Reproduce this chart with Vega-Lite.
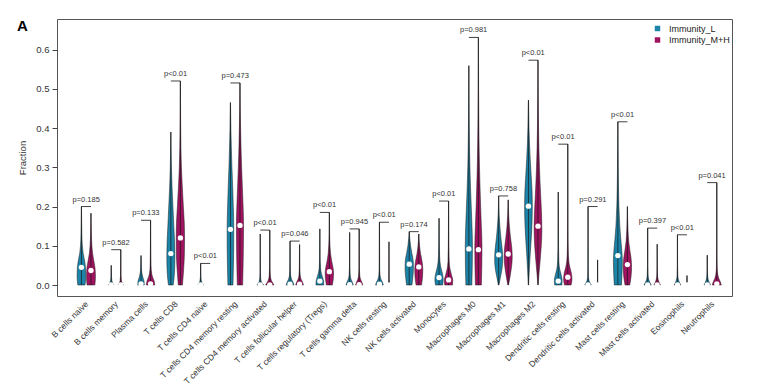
{
"$schema": "https://vega.github.io/schema/vega-lite/v6.json",
"width": 675, "height": 277,
"autosize": "none",
"padding": {"left": 57, "top": 19, "right": 32, "bottom": 95},
"background": "white",
"title": {"text": "A", "anchor": "start", "frame": "group", "dx": -40, "dy": 19, "fontSize": 15, "fontWeight": "bold", "font": "Liberation Sans", "color": "#000"},
"config": {
  "font": "Liberation Sans",
  "view": {"stroke": "#555", "strokeWidth": 1},
  "axis": {"grid": false, "labelFont": "Liberation Sans", "titleFont": "Liberation Sans", "labelColor": "#333", "titleColor": "#333", "tickColor": "#444", "domain": false},
  "axisX": {"labelOverlap": false, "tickCount": 40}
},
"datasets": {
  "cells": [
    {"c":"B cells naive","i":0},{"c":"B cells memory","i":1},{"c":"Plasma cells","i":2},{"c":"T cells CD8","i":3},
    {"c":"T cells CD4 naive","i":4},{"c":"T cells CD4 memory resting","i":5},{"c":"T cells CD4 memory activated","i":6},
    {"c":"T cells follicular helper","i":7},{"c":"T cells regulatory (Tregs)","i":8},{"c":"T cells gamma delta","i":9},
    {"c":"NK cells resting","i":10},{"c":"NK cells activated","i":11},{"c":"Monocytes","i":12},{"c":"Macrophages M0","i":13},
    {"c":"Macrophages M1","i":14},{"c":"Macrophages M2","i":15},{"c":"Dendritic cells resting","i":16},
    {"c":"Dendritic cells activated","i":17},{"c":"Mast cells resting","i":18},{"c":"Mast cells activated","i":19},
    {"c":"Eosinophils","i":20},{"c":"Neutrophils","i":21}
  ],
  "violins": [
    {"c":"B cells naive","g":"Immunity_L","y":0,"w":0.12},{"c":"B cells naive","g":"Immunity_L","y":0.02,"w":0.145},{"c":"B cells naive","g":"Immunity_L","y":0.04,"w":0.14},{"c":"B cells naive","g":"Immunity_L","y":0.06,"w":0.11},{"c":"B cells naive","g":"Immunity_L","y":0.08,"w":0.06},{"c":"B cells naive","g":"Immunity_L","y":0.1,"w":0.03},{"c":"B cells naive","g":"Immunity_L","y":0.13,"w":0.014},{"c":"B cells naive","g":"Immunity_L","y":0.16,"w":0.007},{"c":"B cells naive","g":"Immunity_L","y":0.2,"w":0.002},
    {"c":"B cells naive","g":"Immunity_M+H","y":0,"w":0.13},{"c":"B cells naive","g":"Immunity_M+H","y":0.02,"w":0.15},{"c":"B cells naive","g":"Immunity_M+H","y":0.04,"w":0.14},{"c":"B cells naive","g":"Immunity_M+H","y":0.06,"w":0.1},{"c":"B cells naive","g":"Immunity_M+H","y":0.08,"w":0.055},{"c":"B cells naive","g":"Immunity_M+H","y":0.1,"w":0.03},{"c":"B cells naive","g":"Immunity_M+H","y":0.13,"w":0.012},{"c":"B cells naive","g":"Immunity_M+H","y":0.183,"w":0.002},

    {"c":"B cells memory","g":"Immunity_L","y":0,"w":0.09},{"c":"B cells memory","g":"Immunity_L","y":0.005,"w":0.05},{"c":"B cells memory","g":"Immunity_L","y":0.012,"w":0.02},{"c":"B cells memory","g":"Immunity_L","y":0.025,"w":0.007},{"c":"B cells memory","g":"Immunity_L","y":0.05,"w":0.002},
    {"c":"B cells memory","g":"Immunity_M+H","y":0,"w":0.09},{"c":"B cells memory","g":"Immunity_M+H","y":0.005,"w":0.05},{"c":"B cells memory","g":"Immunity_M+H","y":0.012,"w":0.02},{"c":"B cells memory","g":"Immunity_M+H","y":0.025,"w":0.008},{"c":"B cells memory","g":"Immunity_M+H","y":0.05,"w":0.004},{"c":"B cells memory","g":"Immunity_M+H","y":0.09,"w":0.002},

    {"c":"Plasma cells","g":"Immunity_L","y":0,"w":0.11},{"c":"Plasma cells","g":"Immunity_L","y":0.01,"w":0.1},{"c":"Plasma cells","g":"Immunity_L","y":0.02,"w":0.06},{"c":"Plasma cells","g":"Immunity_L","y":0.03,"w":0.03},{"c":"Plasma cells","g":"Immunity_L","y":0.045,"w":0.012},{"c":"Plasma cells","g":"Immunity_L","y":0.075,"w":0.002},
    {"c":"Plasma cells","g":"Immunity_M+H","y":0,"w":0.14},{"c":"Plasma cells","g":"Immunity_M+H","y":0.01,"w":0.12},{"c":"Plasma cells","g":"Immunity_M+H","y":0.02,"w":0.07},{"c":"Plasma cells","g":"Immunity_M+H","y":0.03,"w":0.035},{"c":"Plasma cells","g":"Immunity_M+H","y":0.05,"w":0.014},{"c":"Plasma cells","g":"Immunity_M+H","y":0.08,"w":0.007},{"c":"Plasma cells","g":"Immunity_M+H","y":0.12,"w":0.004},{"c":"Plasma cells","g":"Immunity_M+H","y":0.165,"w":0.002},

    {"c":"T cells CD8","g":"Immunity_L","y":0,"w":0.08},{"c":"T cells CD8","g":"Immunity_L","y":0.03,"w":0.12},{"c":"T cells CD8","g":"Immunity_L","y":0.07,"w":0.135},{"c":"T cells CD8","g":"Immunity_L","y":0.11,"w":0.125},{"c":"T cells CD8","g":"Immunity_L","y":0.15,"w":0.1},{"c":"T cells CD8","g":"Immunity_L","y":0.2,"w":0.07},{"c":"T cells CD8","g":"Immunity_L","y":0.25,"w":0.04},{"c":"T cells CD8","g":"Immunity_L","y":0.3,"w":0.018},{"c":"T cells CD8","g":"Immunity_L","y":0.35,"w":0.007},{"c":"T cells CD8","g":"Immunity_L","y":0.39,"w":0.002},
    {"c":"T cells CD8","g":"Immunity_M+H","y":0,"w":0.07},{"c":"T cells CD8","g":"Immunity_M+H","y":0.04,"w":0.11},{"c":"T cells CD8","g":"Immunity_M+H","y":0.08,"w":0.135},{"c":"T cells CD8","g":"Immunity_M+H","y":0.12,"w":0.14},{"c":"T cells CD8","g":"Immunity_M+H","y":0.16,"w":0.13},{"c":"T cells CD8","g":"Immunity_M+H","y":0.2,"w":0.1},{"c":"T cells CD8","g":"Immunity_M+H","y":0.25,"w":0.065},{"c":"T cells CD8","g":"Immunity_M+H","y":0.3,"w":0.035},{"c":"T cells CD8","g":"Immunity_M+H","y":0.35,"w":0.018},{"c":"T cells CD8","g":"Immunity_M+H","y":0.42,"w":0.008},{"c":"T cells CD8","g":"Immunity_M+H","y":0.52,"w":0.002},

    {"c":"T cells CD4 naive","g":"Immunity_L","y":0,"w":0.09},{"c":"T cells CD4 naive","g":"Immunity_L","y":0.005,"w":0.05},{"c":"T cells CD4 naive","g":"Immunity_L","y":0.012,"w":0.02},{"c":"T cells CD4 naive","g":"Immunity_L","y":0.025,"w":0.006},{"c":"T cells CD4 naive","g":"Immunity_L","y":0.055,"w":0.002},
    {"c":"T cells CD4 naive","g":"Immunity_M+H","y":0,"w":0.05},{"c":"T cells CD4 naive","g":"Immunity_M+H","y":0.002,"w":0.03},{"c":"T cells CD4 naive","g":"Immunity_M+H","y":0.004,"w":0.005},

    {"c":"T cells CD4 memory resting","g":"Immunity_L","y":0,"w":0.085},{"c":"T cells CD4 memory resting","g":"Immunity_L","y":0.05,"w":0.1},{"c":"T cells CD4 memory resting","g":"Immunity_L","y":0.1,"w":0.11},{"c":"T cells CD4 memory resting","g":"Immunity_L","y":0.15,"w":0.11},{"c":"T cells CD4 memory resting","g":"Immunity_L","y":0.2,"w":0.095},{"c":"T cells CD4 memory resting","g":"Immunity_L","y":0.25,"w":0.075},{"c":"T cells CD4 memory resting","g":"Immunity_L","y":0.3,"w":0.05},{"c":"T cells CD4 memory resting","g":"Immunity_L","y":0.35,"w":0.03},{"c":"T cells CD4 memory resting","g":"Immunity_L","y":0.4,"w":0.014},{"c":"T cells CD4 memory resting","g":"Immunity_L","y":0.465,"w":0.002},
    {"c":"T cells CD4 memory resting","g":"Immunity_M+H","y":0,"w":0.09},{"c":"T cells CD4 memory resting","g":"Immunity_M+H","y":0.05,"w":0.105},{"c":"T cells CD4 memory resting","g":"Immunity_M+H","y":0.1,"w":0.115},{"c":"T cells CD4 memory resting","g":"Immunity_M+H","y":0.15,"w":0.12},{"c":"T cells CD4 memory resting","g":"Immunity_M+H","y":0.2,"w":0.105},{"c":"T cells CD4 memory resting","g":"Immunity_M+H","y":0.25,"w":0.08},{"c":"T cells CD4 memory resting","g":"Immunity_M+H","y":0.3,"w":0.055},{"c":"T cells CD4 memory resting","g":"Immunity_M+H","y":0.35,"w":0.035},{"c":"T cells CD4 memory resting","g":"Immunity_M+H","y":0.4,"w":0.02},{"c":"T cells CD4 memory resting","g":"Immunity_M+H","y":0.45,"w":0.008},{"c":"T cells CD4 memory resting","g":"Immunity_M+H","y":0.515,"w":0.002},

    {"c":"T cells CD4 memory activated","g":"Immunity_L","y":0,"w":0.11},{"c":"T cells CD4 memory activated","g":"Immunity_L","y":0.004,"w":0.07},{"c":"T cells CD4 memory activated","g":"Immunity_L","y":0.01,"w":0.03},{"c":"T cells CD4 memory activated","g":"Immunity_L","y":0.02,"w":0.012},{"c":"T cells CD4 memory activated","g":"Immunity_L","y":0.04,"w":0.005},{"c":"T cells CD4 memory activated","g":"Immunity_L","y":0.13,"w":0.002},
    {"c":"T cells CD4 memory activated","g":"Immunity_M+H","y":0,"w":0.14},{"c":"T cells CD4 memory activated","g":"Immunity_M+H","y":0.005,"w":0.1},{"c":"T cells CD4 memory activated","g":"Immunity_M+H","y":0.012,"w":0.05},{"c":"T cells CD4 memory activated","g":"Immunity_M+H","y":0.025,"w":0.018},{"c":"T cells CD4 memory activated","g":"Immunity_M+H","y":0.045,"w":0.007},{"c":"T cells CD4 memory activated","g":"Immunity_M+H","y":0.08,"w":0.004},{"c":"T cells CD4 memory activated","g":"Immunity_M+H","y":0.14,"w":0.002},

    {"c":"T cells follicular helper","g":"Immunity_L","y":0,"w":0.13},{"c":"T cells follicular helper","g":"Immunity_L","y":0.007,"w":0.1},{"c":"T cells follicular helper","g":"Immunity_L","y":0.015,"w":0.05},{"c":"T cells follicular helper","g":"Immunity_L","y":0.025,"w":0.02},{"c":"T cells follicular helper","g":"Immunity_L","y":0.045,"w":0.007},{"c":"T cells follicular helper","g":"Immunity_L","y":0.112,"w":0.002},
    {"c":"T cells follicular helper","g":"Immunity_M+H","y":0,"w":0.13},{"c":"T cells follicular helper","g":"Immunity_M+H","y":0.007,"w":0.1},{"c":"T cells follicular helper","g":"Immunity_M+H","y":0.015,"w":0.05},{"c":"T cells follicular helper","g":"Immunity_M+H","y":0.025,"w":0.02},{"c":"T cells follicular helper","g":"Immunity_M+H","y":0.045,"w":0.007},{"c":"T cells follicular helper","g":"Immunity_M+H","y":0.103,"w":0.002},

    {"c":"T cells regulatory (Tregs)","g":"Immunity_L","y":0,"w":0.13},{"c":"T cells regulatory (Tregs)","g":"Immunity_L","y":0.01,"w":0.125},{"c":"T cells regulatory (Tregs)","g":"Immunity_L","y":0.02,"w":0.09},{"c":"T cells regulatory (Tregs)","g":"Immunity_L","y":0.03,"w":0.05},{"c":"T cells regulatory (Tregs)","g":"Immunity_L","y":0.045,"w":0.02},{"c":"T cells regulatory (Tregs)","g":"Immunity_L","y":0.07,"w":0.008},{"c":"T cells regulatory (Tregs)","g":"Immunity_L","y":0.143,"w":0.002},
    {"c":"T cells regulatory (Tregs)","g":"Immunity_M+H","y":0,"w":0.1},{"c":"T cells regulatory (Tregs)","g":"Immunity_M+H","y":0.015,"w":0.13},{"c":"T cells regulatory (Tregs)","g":"Immunity_M+H","y":0.03,"w":0.14},{"c":"T cells regulatory (Tregs)","g":"Immunity_M+H","y":0.045,"w":0.12},{"c":"T cells regulatory (Tregs)","g":"Immunity_M+H","y":0.06,"w":0.08},{"c":"T cells regulatory (Tregs)","g":"Immunity_M+H","y":0.08,"w":0.04},{"c":"T cells regulatory (Tregs)","g":"Immunity_M+H","y":0.1,"w":0.02},{"c":"T cells regulatory (Tregs)","g":"Immunity_M+H","y":0.13,"w":0.008},{"c":"T cells regulatory (Tregs)","g":"Immunity_M+H","y":0.185,"w":0.002},

    {"c":"T cells gamma delta","g":"Immunity_L","y":0,"w":0.12},{"c":"T cells gamma delta","g":"Immunity_L","y":0.007,"w":0.09},{"c":"T cells gamma delta","g":"Immunity_L","y":0.015,"w":0.045},{"c":"T cells gamma delta","g":"Immunity_L","y":0.025,"w":0.018},{"c":"T cells gamma delta","g":"Immunity_L","y":0.045,"w":0.006},{"c":"T cells gamma delta","g":"Immunity_L","y":0.134,"w":0.002},
    {"c":"T cells gamma delta","g":"Immunity_M+H","y":0,"w":0.12},{"c":"T cells gamma delta","g":"Immunity_M+H","y":0.007,"w":0.09},{"c":"T cells gamma delta","g":"Immunity_M+H","y":0.015,"w":0.045},{"c":"T cells gamma delta","g":"Immunity_M+H","y":0.025,"w":0.018},{"c":"T cells gamma delta","g":"Immunity_M+H","y":0.045,"w":0.006},{"c":"T cells gamma delta","g":"Immunity_M+H","y":0.143,"w":0.002},

    {"c":"NK cells resting","g":"Immunity_L","y":0,"w":0.13},{"c":"NK cells resting","g":"Immunity_L","y":0.007,"w":0.1},{"c":"NK cells resting","g":"Immunity_L","y":0.015,"w":0.05},{"c":"NK cells resting","g":"Immunity_L","y":0.025,"w":0.02},{"c":"NK cells resting","g":"Immunity_L","y":0.045,"w":0.007},{"c":"NK cells resting","g":"Immunity_L","y":0.16,"w":0.002},
    {"c":"NK cells resting","g":"Immunity_M+H","y":0,"w":0.06},{"c":"NK cells resting","g":"Immunity_M+H","y":0.004,"w":0.03},{"c":"NK cells resting","g":"Immunity_M+H","y":0.01,"w":0.01},{"c":"NK cells resting","g":"Immunity_M+H","y":0.02,"w":0.004},{"c":"NK cells resting","g":"Immunity_M+H","y":0.11,"w":0.002},

    {"c":"NK cells activated","g":"Immunity_L","y":0,"w":0.09},{"c":"NK cells activated","g":"Immunity_L","y":0.02,"w":0.12},{"c":"NK cells activated","g":"Immunity_L","y":0.04,"w":0.14},{"c":"NK cells activated","g":"Immunity_L","y":0.06,"w":0.135},{"c":"NK cells activated","g":"Immunity_L","y":0.08,"w":0.09},{"c":"NK cells activated","g":"Immunity_L","y":0.1,"w":0.045},{"c":"NK cells activated","g":"Immunity_L","y":0.12,"w":0.015},{"c":"NK cells activated","g":"Immunity_L","y":0.136,"w":0.002},
    {"c":"NK cells activated","g":"Immunity_M+H","y":0,"w":0.09},{"c":"NK cells activated","g":"Immunity_M+H","y":0.02,"w":0.125},{"c":"NK cells activated","g":"Immunity_M+H","y":0.04,"w":0.135},{"c":"NK cells activated","g":"Immunity_M+H","y":0.06,"w":0.11},{"c":"NK cells activated","g":"Immunity_M+H","y":0.08,"w":0.06},{"c":"NK cells activated","g":"Immunity_M+H","y":0.1,"w":0.025},{"c":"NK cells activated","g":"Immunity_M+H","y":0.13,"w":0.002},

    {"c":"Monocytes","g":"Immunity_L","y":0,"w":0.12},{"c":"Monocytes","g":"Immunity_L","y":0.015,"w":0.14},{"c":"Monocytes","g":"Immunity_L","y":0.03,"w":0.11},{"c":"Monocytes","g":"Immunity_L","y":0.045,"w":0.06},{"c":"Monocytes","g":"Immunity_L","y":0.06,"w":0.03},{"c":"Monocytes","g":"Immunity_L","y":0.09,"w":0.012},{"c":"Monocytes","g":"Immunity_L","y":0.12,"w":0.006},{"c":"Monocytes","g":"Immunity_L","y":0.17,"w":0.002},
    {"c":"Monocytes","g":"Immunity_M+H","y":0,"w":0.13},{"c":"Monocytes","g":"Immunity_M+H","y":0.012,"w":0.14},{"c":"Monocytes","g":"Immunity_M+H","y":0.025,"w":0.1},{"c":"Monocytes","g":"Immunity_M+H","y":0.04,"w":0.05},{"c":"Monocytes","g":"Immunity_M+H","y":0.06,"w":0.02},{"c":"Monocytes","g":"Immunity_M+H","y":0.1,"w":0.008},{"c":"Monocytes","g":"Immunity_M+H","y":0.15,"w":0.004},{"c":"Monocytes","g":"Immunity_M+H","y":0.214,"w":0.002},

    {"c":"Macrophages M0","g":"Immunity_L","y":0,"w":0.1},{"c":"Macrophages M0","g":"Immunity_L","y":0.05,"w":0.115},{"c":"Macrophages M0","g":"Immunity_L","y":0.1,"w":0.12},{"c":"Macrophages M0","g":"Immunity_L","y":0.15,"w":0.105},{"c":"Macrophages M0","g":"Immunity_L","y":0.2,"w":0.08},{"c":"Macrophages M0","g":"Immunity_L","y":0.25,"w":0.055},{"c":"Macrophages M0","g":"Immunity_L","y":0.3,"w":0.035},{"c":"Macrophages M0","g":"Immunity_L","y":0.35,"w":0.022},{"c":"Macrophages M0","g":"Immunity_L","y":0.4,"w":0.013},{"c":"Macrophages M0","g":"Immunity_L","y":0.47,"w":0.006},{"c":"Macrophages M0","g":"Immunity_L","y":0.559,"w":0.002},
    {"c":"Macrophages M0","g":"Immunity_M+H","y":0,"w":0.1},{"c":"Macrophages M0","g":"Immunity_M+H","y":0.05,"w":0.115},{"c":"Macrophages M0","g":"Immunity_M+H","y":0.1,"w":0.12},{"c":"Macrophages M0","g":"Immunity_M+H","y":0.15,"w":0.1},{"c":"Macrophages M0","g":"Immunity_M+H","y":0.2,"w":0.075},{"c":"Macrophages M0","g":"Immunity_M+H","y":0.25,"w":0.055},{"c":"Macrophages M0","g":"Immunity_M+H","y":0.3,"w":0.037},{"c":"Macrophages M0","g":"Immunity_M+H","y":0.35,"w":0.025},{"c":"Macrophages M0","g":"Immunity_M+H","y":0.4,"w":0.016},{"c":"Macrophages M0","g":"Immunity_M+H","y":0.5,"w":0.007},{"c":"Macrophages M0","g":"Immunity_M+H","y":0.631,"w":0.002},

    {"c":"Macrophages M1","g":"Immunity_L","y":0,"w":0.01},{"c":"Macrophages M1","g":"Immunity_L","y":0.02,"w":0.06},{"c":"Macrophages M1","g":"Immunity_L","y":0.04,"w":0.11},{"c":"Macrophages M1","g":"Immunity_L","y":0.065,"w":0.135},{"c":"Macrophages M1","g":"Immunity_L","y":0.09,"w":0.12},{"c":"Macrophages M1","g":"Immunity_L","y":0.12,"w":0.075},{"c":"Macrophages M1","g":"Immunity_L","y":0.15,"w":0.04},{"c":"Macrophages M1","g":"Immunity_L","y":0.18,"w":0.015},{"c":"Macrophages M1","g":"Immunity_L","y":0.227,"w":0.002},
    {"c":"Macrophages M1","g":"Immunity_M+H","y":0,"w":0.01},{"c":"Macrophages M1","g":"Immunity_M+H","y":0.02,"w":0.06},{"c":"Macrophages M1","g":"Immunity_M+H","y":0.045,"w":0.11},{"c":"Macrophages M1","g":"Immunity_M+H","y":0.07,"w":0.135},{"c":"Macrophages M1","g":"Immunity_M+H","y":0.095,"w":0.12},{"c":"Macrophages M1","g":"Immunity_M+H","y":0.12,"w":0.08},{"c":"Macrophages M1","g":"Immunity_M+H","y":0.15,"w":0.04},{"c":"Macrophages M1","g":"Immunity_M+H","y":0.18,"w":0.015},{"c":"Macrophages M1","g":"Immunity_M+H","y":0.217,"w":0.002},

    {"c":"Macrophages M2","g":"Immunity_L","y":0,"w":0.005},{"c":"Macrophages M2","g":"Immunity_L","y":0.04,"w":0.03},{"c":"Macrophages M2","g":"Immunity_L","y":0.08,"w":0.06},{"c":"Macrophages M2","g":"Immunity_L","y":0.12,"w":0.095},{"c":"Macrophages M2","g":"Immunity_L","y":0.16,"w":0.12},{"c":"Macrophages M2","g":"Immunity_L","y":0.2,"w":0.13},{"c":"Macrophages M2","g":"Immunity_L","y":0.24,"w":0.12},{"c":"Macrophages M2","g":"Immunity_L","y":0.28,"w":0.09},{"c":"Macrophages M2","g":"Immunity_L","y":0.32,"w":0.06},{"c":"Macrophages M2","g":"Immunity_L","y":0.36,"w":0.035},{"c":"Macrophages M2","g":"Immunity_L","y":0.4,"w":0.018},{"c":"Macrophages M2","g":"Immunity_L","y":0.471,"w":0.002},
    {"c":"Macrophages M2","g":"Immunity_M+H","y":0,"w":0.005},{"c":"Macrophages M2","g":"Immunity_M+H","y":0.03,"w":0.035},{"c":"Macrophages M2","g":"Immunity_M+H","y":0.06,"w":0.07},{"c":"Macrophages M2","g":"Immunity_M+H","y":0.1,"w":0.11},{"c":"Macrophages M2","g":"Immunity_M+H","y":0.14,"w":0.13},{"c":"Macrophages M2","g":"Immunity_M+H","y":0.18,"w":0.12},{"c":"Macrophages M2","g":"Immunity_M+H","y":0.22,"w":0.095},{"c":"Macrophages M2","g":"Immunity_M+H","y":0.26,"w":0.07},{"c":"Macrophages M2","g":"Immunity_M+H","y":0.3,"w":0.05},{"c":"Macrophages M2","g":"Immunity_M+H","y":0.35,"w":0.03},{"c":"Macrophages M2","g":"Immunity_M+H","y":0.4,"w":0.018},{"c":"Macrophages M2","g":"Immunity_M+H","y":0.48,"w":0.008},{"c":"Macrophages M2","g":"Immunity_M+H","y":0.573,"w":0.002},

    {"c":"Dendritic cells resting","g":"Immunity_L","y":0,"w":0.12},{"c":"Dendritic cells resting","g":"Immunity_L","y":0.012,"w":0.13},{"c":"Dendritic cells resting","g":"Immunity_L","y":0.025,"w":0.1},{"c":"Dendritic cells resting","g":"Immunity_L","y":0.04,"w":0.05},{"c":"Dendritic cells resting","g":"Immunity_L","y":0.06,"w":0.02},{"c":"Dendritic cells resting","g":"Immunity_L","y":0.1,"w":0.008},{"c":"Dendritic cells resting","g":"Immunity_L","y":0.16,"w":0.004},{"c":"Dendritic cells resting","g":"Immunity_L","y":0.237,"w":0.002},
    {"c":"Dendritic cells resting","g":"Immunity_M+H","y":0,"w":0.11},{"c":"Dendritic cells resting","g":"Immunity_M+H","y":0.015,"w":0.14},{"c":"Dendritic cells resting","g":"Immunity_M+H","y":0.03,"w":0.12},{"c":"Dendritic cells resting","g":"Immunity_M+H","y":0.045,"w":0.07},{"c":"Dendritic cells resting","g":"Immunity_M+H","y":0.06,"w":0.035},{"c":"Dendritic cells resting","g":"Immunity_M+H","y":0.09,"w":0.014},{"c":"Dendritic cells resting","g":"Immunity_M+H","y":0.14,"w":0.006},{"c":"Dendritic cells resting","g":"Immunity_M+H","y":0.22,"w":0.003},{"c":"Dendritic cells resting","g":"Immunity_M+H","y":0.359,"w":0.002},

    {"c":"Dendritic cells activated","g":"Immunity_L","y":0,"w":0.11},{"c":"Dendritic cells activated","g":"Immunity_L","y":0.005,"w":0.07},{"c":"Dendritic cells activated","g":"Immunity_L","y":0.012,"w":0.03},{"c":"Dendritic cells activated","g":"Immunity_L","y":0.025,"w":0.01},{"c":"Dendritic cells activated","g":"Immunity_L","y":0.05,"w":0.004},{"c":"Dendritic cells activated","g":"Immunity_L","y":0.2,"w":0.002},
    {"c":"Dendritic cells activated","g":"Immunity_M+H","y":0,"w":0.04},{"c":"Dendritic cells activated","g":"Immunity_M+H","y":0.003,"w":0.015},{"c":"Dendritic cells activated","g":"Immunity_M+H","y":0.008,"w":0.004},{"c":"Dendritic cells activated","g":"Immunity_M+H","y":0.064,"w":0.002},

    {"c":"Mast cells resting","g":"Immunity_L","y":0,"w":0.12},{"c":"Mast cells resting","g":"Immunity_L","y":0.03,"w":0.14},{"c":"Mast cells resting","g":"Immunity_L","y":0.06,"w":0.15},{"c":"Mast cells resting","g":"Immunity_L","y":0.09,"w":0.13},{"c":"Mast cells resting","g":"Immunity_L","y":0.12,"w":0.095},{"c":"Mast cells resting","g":"Immunity_L","y":0.15,"w":0.065},{"c":"Mast cells resting","g":"Immunity_L","y":0.2,"w":0.035},{"c":"Mast cells resting","g":"Immunity_L","y":0.25,"w":0.02},{"c":"Mast cells resting","g":"Immunity_L","y":0.3,"w":0.012},{"c":"Mast cells resting","g":"Immunity_L","y":0.36,"w":0.006},{"c":"Mast cells resting","g":"Immunity_L","y":0.416,"w":0.002},
    {"c":"Mast cells resting","g":"Immunity_M+H","y":0,"w":0.08},{"c":"Mast cells resting","g":"Immunity_M+H","y":0.02,"w":0.12},{"c":"Mast cells resting","g":"Immunity_M+H","y":0.045,"w":0.14},{"c":"Mast cells resting","g":"Immunity_M+H","y":0.07,"w":0.12},{"c":"Mast cells resting","g":"Immunity_M+H","y":0.09,"w":0.08},{"c":"Mast cells resting","g":"Immunity_M+H","y":0.11,"w":0.045},{"c":"Mast cells resting","g":"Immunity_M+H","y":0.14,"w":0.02},{"c":"Mast cells resting","g":"Immunity_M+H","y":0.17,"w":0.008},{"c":"Mast cells resting","g":"Immunity_M+H","y":0.2,"w":0.002},

    {"c":"Mast cells activated","g":"Immunity_L","y":0,"w":0.12},{"c":"Mast cells activated","g":"Immunity_L","y":0.006,"w":0.08},{"c":"Mast cells activated","g":"Immunity_L","y":0.013,"w":0.04},{"c":"Mast cells activated","g":"Immunity_L","y":0.025,"w":0.014},{"c":"Mast cells activated","g":"Immunity_L","y":0.05,"w":0.005},{"c":"Mast cells activated","g":"Immunity_L","y":0.145,"w":0.002},
    {"c":"Mast cells activated","g":"Immunity_M+H","y":0,"w":0.11},{"c":"Mast cells activated","g":"Immunity_M+H","y":0.006,"w":0.07},{"c":"Mast cells activated","g":"Immunity_M+H","y":0.013,"w":0.035},{"c":"Mast cells activated","g":"Immunity_M+H","y":0.025,"w":0.012},{"c":"Mast cells activated","g":"Immunity_M+H","y":0.05,"w":0.004},{"c":"Mast cells activated","g":"Immunity_M+H","y":0.104,"w":0.002},

    {"c":"Eosinophils","g":"Immunity_L","y":0,"w":0.11},{"c":"Eosinophils","g":"Immunity_L","y":0.006,"w":0.07},{"c":"Eosinophils","g":"Immunity_L","y":0.013,"w":0.035},{"c":"Eosinophils","g":"Immunity_L","y":0.025,"w":0.012},{"c":"Eosinophils","g":"Immunity_L","y":0.05,"w":0.004},{"c":"Eosinophils","g":"Immunity_L","y":0.128,"w":0.002},
    {"c":"Eosinophils","g":"Immunity_M+H","y":0,"w":0.04},{"c":"Eosinophils","g":"Immunity_M+H","y":0.003,"w":0.015},{"c":"Eosinophils","g":"Immunity_M+H","y":0.008,"w":0.004},{"c":"Eosinophils","g":"Immunity_M+H","y":0.024,"w":0.002},

    {"c":"Neutrophils","g":"Immunity_L","y":0,"w":0.11},{"c":"Neutrophils","g":"Immunity_L","y":0.006,"w":0.07},{"c":"Neutrophils","g":"Immunity_L","y":0.013,"w":0.035},{"c":"Neutrophils","g":"Immunity_L","y":0.025,"w":0.012},{"c":"Neutrophils","g":"Immunity_L","y":0.045,"w":0.004},{"c":"Neutrophils","g":"Immunity_L","y":0.076,"w":0.002},
    {"c":"Neutrophils","g":"Immunity_M+H","y":0,"w":0.15},{"c":"Neutrophils","g":"Immunity_M+H","y":0.008,"w":0.12},{"c":"Neutrophils","g":"Immunity_M+H","y":0.016,"w":0.07},{"c":"Neutrophils","g":"Immunity_M+H","y":0.028,"w":0.03},{"c":"Neutrophils","g":"Immunity_M+H","y":0.045,"w":0.012},{"c":"Neutrophils","g":"Immunity_M+H","y":0.08,"w":0.006},{"c":"Neutrophils","g":"Immunity_M+H","y":0.15,"w":0.003},{"c":"Neutrophils","g":"Immunity_M+H","y":0.261,"w":0.002}
  ],
  "stats": [
    {"c":"B cells naive","g":"Immunity_L","med":0.045,"min":0,"max":0.2},{"c":"B cells naive","g":"Immunity_M+H","med":0.037,"min":0,"max":0.183},
    {"c":"B cells memory","g":"Immunity_L","med":0.0,"min":0,"max":0.05},{"c":"B cells memory","g":"Immunity_M+H","med":0.0,"min":0,"max":0.09},
    {"c":"Plasma cells","g":"Immunity_L","med":0.003,"min":0,"max":0.075},{"c":"Plasma cells","g":"Immunity_M+H","med":0.003,"min":0,"max":0.165},
    {"c":"T cells CD8","g":"Immunity_L","med":0.08,"min":0,"max":0.39},{"c":"T cells CD8","g":"Immunity_M+H","med":0.12,"min":0,"max":0.52},
    {"c":"T cells CD4 naive","g":"Immunity_L","med":0.0,"min":0,"max":0.055},{"c":"T cells CD4 naive","g":"Immunity_M+H","med":0.0,"min":0,"max":0.004},
    {"c":"T cells CD4 memory resting","g":"Immunity_L","med":0.142,"min":0,"max":0.465},{"c":"T cells CD4 memory resting","g":"Immunity_M+H","med":0.152,"min":0,"max":0.515},
    {"c":"T cells CD4 memory activated","g":"Immunity_L","med":0.0,"min":0,"max":0.13},{"c":"T cells CD4 memory activated","g":"Immunity_M+H","med":0.0,"min":0,"max":0.14},
    {"c":"T cells follicular helper","g":"Immunity_L","med":0.002,"min":0,"max":0.112},{"c":"T cells follicular helper","g":"Immunity_M+H","med":0.002,"min":0,"max":0.103},
    {"c":"T cells regulatory (Tregs)","g":"Immunity_L","med":0.01,"min":0,"max":0.143},{"c":"T cells regulatory (Tregs)","g":"Immunity_M+H","med":0.034,"min":0,"max":0.185},
    {"c":"T cells gamma delta","g":"Immunity_L","med":0.001,"min":0,"max":0.134},{"c":"T cells gamma delta","g":"Immunity_M+H","med":0.001,"min":0,"max":0.143},
    {"c":"NK cells resting","g":"Immunity_L","med":0.002,"min":0,"max":0.16},{"c":"NK cells resting","g":"Immunity_M+H","med":0.0,"min":0,"max":0.11},
    {"c":"NK cells activated","g":"Immunity_L","med":0.053,"min":0,"max":0.136},{"c":"NK cells activated","g":"Immunity_M+H","med":0.046,"min":0,"max":0.13},
    {"c":"Monocytes","g":"Immunity_L","med":0.019,"min":0,"max":0.17},{"c":"Monocytes","g":"Immunity_M+H","med":0.013,"min":0,"max":0.214},
    {"c":"Macrophages M0","g":"Immunity_L","med":0.092,"min":0,"max":0.559},{"c":"Macrophages M0","g":"Immunity_M+H","med":0.09,"min":0,"max":0.631},
    {"c":"Macrophages M1","g":"Immunity_L","med":0.077,"min":0,"max":0.227},{"c":"Macrophages M1","g":"Immunity_M+H","med":0.079,"min":0,"max":0.217},
    {"c":"Macrophages M2","g":"Immunity_L","med":0.201,"min":0,"max":0.471},{"c":"Macrophages M2","g":"Immunity_M+H","med":0.15,"min":0,"max":0.573},
    {"c":"Dendritic cells resting","g":"Immunity_L","med":0.01,"min":0,"max":0.237},{"c":"Dendritic cells resting","g":"Immunity_M+H","med":0.02,"min":0,"max":0.359},
    {"c":"Dendritic cells activated","g":"Immunity_L","med":0.0,"min":0,"max":0.2},{"c":"Dendritic cells activated","g":"Immunity_M+H","med":0.0,"min":0,"max":0.064},
    {"c":"Mast cells resting","g":"Immunity_L","med":0.075,"min":0,"max":0.416},{"c":"Mast cells resting","g":"Immunity_M+H","med":0.052,"min":0,"max":0.2},
    {"c":"Mast cells activated","g":"Immunity_L","med":0.0,"min":0,"max":0.145},{"c":"Mast cells activated","g":"Immunity_M+H","med":0.0,"min":0,"max":0.104},
    {"c":"Eosinophils","g":"Immunity_L","med":0.0,"min":0,"max":0.128},{"c":"Eosinophils","g":"Immunity_M+H","med":0.0,"min":0,"max":0.024},
    {"c":"Neutrophils","g":"Immunity_L","med":0.0,"min":0,"max":0.076},{"c":"Neutrophils","g":"Immunity_M+H","med":0.003,"min":0,"max":0.261}
  ],
  "pvals": [
    {"c":"B cells naive","p":"p=0.185","top":0.2},{"c":"B cells memory","p":"p=0.582","top":0.09},{"c":"Plasma cells","p":"p=0.133","top":0.165},
    {"c":"T cells CD8","p":"p<0.01","top":0.52},{"c":"T cells CD4 naive","p":"p<0.01","top":0.055},{"c":"T cells CD4 memory resting","p":"p=0.473","top":0.515},
    {"c":"T cells CD4 memory activated","p":"p<0.01","top":0.14},{"c":"T cells follicular helper","p":"p=0.046","top":0.112},
    {"c":"T cells regulatory (Tregs)","p":"p<0.01","top":0.185},{"c":"T cells gamma delta","p":"p=0.945","top":0.143},
    {"c":"NK cells resting","p":"p<0.01","top":0.16},{"c":"NK cells activated","p":"p=0.174","top":0.136},{"c":"Monocytes","p":"p<0.01","top":0.214},
    {"c":"Macrophages M0","p":"p=0.981","top":0.631},{"c":"Macrophages M1","p":"p=0.758","top":0.227},{"c":"Macrophages M2","p":"p<0.01","top":0.573},
    {"c":"Dendritic cells resting","p":"p<0.01","top":0.359},{"c":"Dendritic cells activated","p":"p=0.291","top":0.2},
    {"c":"Mast cells resting","p":"p<0.01","top":0.416},{"c":"Mast cells activated","p":"p=0.397","top":0.145},
    {"c":"Eosinophils","p":"p<0.01","top":0.128},{"c":"Neutrophils","p":"p=0.041","top":0.261}
  ]
},
"layer": [
  {
    "data": {"name": "violins"},
    "transform": [
      {"lookup": "c", "from": {"data": {"name": "cells"}, "key": "c", "fields": ["i"]}},
      {"calculate": "datum.i + (datum.g === 'Immunity_L' ? -0.16 : 0.16)", "as": "xc"},
      {"calculate": "datum.xc - datum.w", "as": "lo"},
      {"calculate": "datum.xc + datum.w", "as": "hi"}
    ],
    "mark": {"type": "area", "orient": "horizontal", "interpolate": "monotone", "stroke": "#1a1a1a", "strokeWidth": 0.5, "fillOpacity": 1},
    "encoding": {
      "x": {"field": "lo", "type": "quantitative", "stack": null,
        "scale": {"domain": [-0.98, 21.67], "nice": false, "zero": false},
        "axis": {"title": null, "values": [0,1,2,3,4,5,6,7,8,9,10,11,12,13,14,15,16,17,18,19,20,21], "tickCount": 40, "ticks": false, "labelAngle": -45, "labelAlign": "right", "labelBaseline": "middle", "labelPadding": 6, "labelFontSize": 8.5, "labelBound": false, "labelOverlap": false, "labelFlush": false,
          "labelExpr": "['B cells naive','B cells memory','Plasma cells','T cells CD8','T cells CD4 naive','T cells CD4 memory resting','T cells CD4 memory activated','T cells follicular helper','T cells regulatory (Tregs)','T cells gamma delta','NK cells resting','NK cells activated','Monocytes','Macrophages M0','Macrophages M1','Macrophages M2','Dendritic cells resting','Dendritic cells activated','Mast cells resting','Mast cells activated','Eosinophils','Neutrophils'][datum.value]"}},
      "x2": {"field": "hi"},
      "y": {"field": "y", "type": "quantitative",
        "scale": {"domain": [-0.028, 0.678], "nice": false, "zero": false},
        "axis": {"title": "Fraction", "values": [0, 0.1, 0.2, 0.3, 0.4, 0.5, 0.6], "format": ".1f", "tickSize": 5, "labelPadding": 3, "labelFontSize": 9.5, "titleFontSize": 9.5, "titleFontWeight": "normal", "titlePadding": 8}},
      "color": {"field": "g", "type": "nominal",
        "scale": {"domain": ["Immunity_L", "Immunity_M+H"], "range": ["#1b84a8", "#a01360"]},
        "legend": {"title": null, "orient": "none", "legendX": 596, "legendY": 5, "padding": 0, "symbolType": "square", "symbolSize": 30, "symbolStrokeWidth": 0, "labelFontSize": 9, "labelColor": "#222", "rowPadding": 1.5, "labelOffset": 7}},
      "detail": {"field": "c", "type": "nominal"}
    }
  },
  {
    "data": {"name": "stats"},
    "transform": [
      {"lookup": "c", "from": {"data": {"name": "cells"}, "key": "c", "fields": ["i"]}},
      {"calculate": "datum.i + (datum.g === 'Immunity_L' ? -0.16 : 0.16)", "as": "xc"}
    ],
    "mark": {"type": "rule", "color": "#161616", "strokeWidth": 0.7},
    "encoding": {
      "x": {"field": "xc", "type": "quantitative"},
      "y": {"field": "min", "type": "quantitative"},
      "y2": {"field": "max"}
    }
  },
  {
    "data": {"name": "stats"},
    "transform": [
      {"lookup": "c", "from": {"data": {"name": "cells"}, "key": "c", "fields": ["i"]}},
      {"calculate": "datum.i + (datum.g === 'Immunity_L' ? -0.16 : 0.16)", "as": "xc"}
    ],
    "mark": {"type": "point", "filled": true, "color": "white", "size": 28, "opacity": 1},
    "encoding": {
      "x": {"field": "xc", "type": "quantitative"},
      "y": {"field": "med", "type": "quantitative"}
    }
  },
  {
    "data": {"name": "pvals"},
    "transform": [
      {"lookup": "c", "from": {"data": {"name": "cells"}, "key": "c", "fields": ["i"]}},
      {"calculate": "datum.i - 0.16", "as": "xl"},
      {"calculate": "datum.i + 0.16", "as": "xr"}
    ],
    "mark": {"type": "rule", "color": "#111", "strokeWidth": 0.8},
    "encoding": {
      "x": {"field": "xl", "type": "quantitative"},
      "x2": {"field": "xr"},
      "y": {"field": "top", "type": "quantitative"}
    }
  },
  {
    "data": {"name": "pvals"},
    "transform": [
      {"lookup": "c", "from": {"data": {"name": "cells"}, "key": "c", "fields": ["i"]}}
    ],
    "mark": {"type": "text", "fontSize": 7.5, "fill": "#333", "baseline": "alphabetic", "dy": -5, "font": "Liberation Sans"},
    "encoding": {
      "x": {"field": "i", "type": "quantitative"},
      "y": {"field": "top", "type": "quantitative"},
      "text": {"field": "p", "type": "nominal"}
    }
  }
]
}
